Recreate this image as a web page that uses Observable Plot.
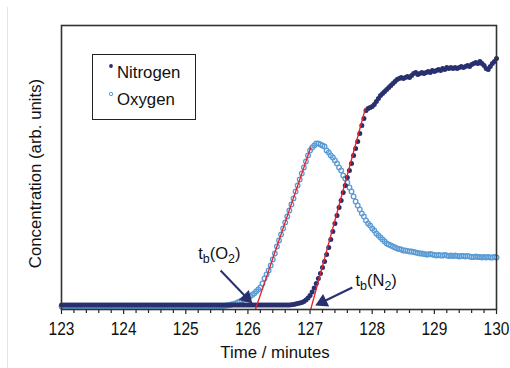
<!DOCTYPE html>
<html><head><meta charset="utf-8">
<script src="https://cdn.jsdelivr.net/npm/d3@7"></script>
<script src="https://cdn.jsdelivr.net/npm/@observablehq/plot@0.6"></script>
<style>
body{margin:0;background:#fff;}
#wrap{position:relative;width:510px;height:368px;font-family:"Liberation Sans",Arial,sans-serif;overflow:hidden;}
#edge{position:absolute;left:7px;top:7px;width:1px;height:361px;background:#e4e4e4;}
#legend{position:absolute;left:92px;top:54px;width:102px;height:64px;border:1.6px solid #222;background:#fff;}
.item{position:absolute;left:24px;font-size:16.8px;color:#111;line-height:20px;}
.mk{position:absolute;left:14px;}
</style>
</head><body>
<div id="wrap"><div id="edge"></div></div>
<script>
// sampling of the detector: one reading every 2 s, starting at 123 min
const sampleStart = 123;
const sampleStep = 1 / 30;

const nitrogen = [
4.5,4.5,4.5,4.5,4.5,4.5,4.5,4.5,4.5,4.5,
4.5,4.5,4.5,4.5,4.5,4.5,4.5,4.5,4.5,4.5,
4.5,4.5,4.5,4.5,4.5,4.5,4.5,4.5,4.5,4.5,
4.5,4.5,4.5,4.5,4.5,4.5,4.5,4.5,4.5,4.5,
4.5,4.5,4.5,4.5,4.5,4.5,4.5,4.5,4.5,4.5,
4.5,4.5,4.5,4.5,4.5,4.5,4.5,4.5,4.5,4.5,
4.5,4.5,4.5,4.5,4.5,4.5,4.5,4.5,4.5,4.5,
4.5,4.5,4.5,4.5,4.5,4.5,4.5,4.5,4.5,4.5,
4.5,4.5,4.5,4.5,4.5,4.5,4.5,4.5,4.5,4.5,
4.5,4.5,4.5,4.5,4.5,4.5,4.5,4.5,4.5,4.5,
4.5,4.5,4.5,4.5,4.5,4.5,4.5,4.5,4.5,4.5,
4.6,4.8,5,5.5,6,6.5,7,8,9.5,11.5,
14,17.5,21.5,26,31,36,42,48,55,62,
70,78,86,94,102,109,117,124,132,139,
146,154,161,168,176,184,191,199,201,202,
203,205,208,211,214,216,218,220,222,224,
226,228,230,231,232,231,232,233,232,234,
236,237,235,236,237,236,237,238,237,239,
238,239,240,239,241,240,242,241,242,241,
242,241,242,243,242,243,244,243,245,246,
247,246,248,246,244,241,240,243,246,248,
251];

const oxygen = [
3,3,3,3,3,3,3,3,3,3,
3,3,3,3,3,3,3,3,3,3,
3,3,3,3,3,3,3,3,3,3,
3,3,3,3,3,3,3,3,3,3,
3,3,3,3,3,3,3,3,3,3,
3,3,3,3,3,3,3,3,3,3,
3,3,3,3,3,3,3,3,3,3,
3,3,3,3,3,3,3,3,3.5,3.8,
4,4.5,5,5.5,6,7,8,9,10,11,
12,13,14.5,16,18,20,22,26,31,35,
39,44,50,56,63,69,75,81,87,93,
99,105,111,118,124,130,136,142,148,154,
159,162,164,166,166,165,164,163,159,157,
154,152,149,146,142,139,134,131,127,122,
118,113,108,104,100,96,93,89,86,84,
81,79,76,74,72,70,68,66,65,64,
63,62,61,60.5,60,59,59,58.5,58,58,
57.5,57,56.5,56,56,55.5,55,55,55.5,55,
54.5,54,54.5,54,54,54.5,54,53.5,54,53.5,
54,53.5,53,53.5,53.5,53,53.5,53,52.5,52.5,
53,52.5,52.5,52,52.5,52,52.5,52,52,52.5,
52];

const xTicks = [123, 124, 125, 126, 127, 128, 129, 130];
const minorTicks = [123.2,123.4,123.6,123.8,124.2,124.4,124.6,124.8,125.2,125.4,125.6,125.8,
  126.2,126.4,126.6,126.8,127.2,127.4,127.6,127.8,128.2,128.4,128.6,128.8,129.2,129.4,129.6,129.8];

// linear fits (red) used to read the breakthrough times
const fitO2 = [{t: 126.12, v: 0}, {t: 127.01, v: 162}];
const fitN2 = [{t: 127.01, v: 0}, {t: 127.89, v: 201}];

// annotations
const annoLabels = [
  {t: 125.20, v: 56, key: "O"},
  {t: 127.73, v: 29, key: "N"}
];
const annoArrows = [
  {t1: 125.56, v1: 39, t2: 125.98, v2: 11.7, rot: 135},
  {t1: 127.68, v1: 22, t2: 127.20, v2: 7.5, rot: 244}
];

const navy = "#28306f";
const light = "#5b9bd3";
const toRows = arr => arr.map((v, i) => ({t: sampleStart + i * sampleStep, v}));

const plot = Plot.plot({
  width: 510, height: 368,
  marginLeft: 61, marginRight: 14, marginTop: 25, marginBottom: 59,
  style: {fontFamily: '"Liberation Sans", Arial, sans-serif', fontSize: "15.5px", color: "#111", background: "transparent", overflow: "visible"},
  x: {domain: [123, 130]},
  y: {domain: [0, 284], axis: null},
  marks: [
    Plot.axisX(minorTicks, {tickSize: 4, text: null, label: null, stroke: "#222", strokeWidth: 1.2}),
    Plot.axisX(xTicks, {tickSize: 5, tickPadding: 9, label: null, fontSize: 15.5, tickFormat: d => String(d), stroke: "#222", strokeWidth: 1.2}),
    Plot.dot(toRows(oxygen), {x: "t", y: "v", r: 2.3, stroke: light, strokeWidth: 1.3, fill: "none"}),
    Plot.dot(toRows(nitrogen), {x: "t", y: "v", r: 2.5, fill: navy}),
    Plot.line(fitO2, {x: "t", y: "v", stroke: "#e8202a", strokeWidth: 1.3}),
    Plot.line(fitN2, {x: "t", y: "v", stroke: "#e8202a", strokeWidth: 1.3}),
    Plot.link(annoArrows, {x1: "t1", y1: "v1", x2: "t2", y2: "v2", stroke: navy, strokeWidth: 2}),
    Plot.dot(annoArrows, {x: "t2", y: "v2", symbol: "triangle", r: 5.2, fill: navy, rotate: "rot"}),
    Plot.text(annoLabels, {x: "t", y: "v", text: d => "ANNO-" + d.key, textAnchor: "start", fontSize: 16.5, fill: "#111"}),
    Plot.text(["Time / minutes"], {frameAnchor: "bottom", dy: 48, dx: -4, fontSize: 16.8, fill: "#111"}),
    Plot.text(["Concentration (arb. units)"], {frameAnchor: "left", textAnchor: "middle", dx: -26, dy: 6, rotate: -90, fontSize: 16.8, fill: "#111"}),
    Plot.frame({stroke: "#333", strokeWidth: 1.6})
  ]
});

// subscripted annotation text
const NS = "http://www.w3.org/2000/svg";
d3.select(plot).selectAll("text").each(function() {
  const s = this.textContent;
  if (!s.startsWith("ANNO-")) return;
  const el = this.querySelector("tspan") || this;
  const gas = s.slice(5);
  el.textContent = "";
  const parts = [["t", false], ["b", true], ["(" + gas, false], ["2", true], [")", false]];
  for (const [txt, sub] of parts) {
    const ts = document.createElementNS(NS, "tspan");
    ts.textContent = txt;
    if (sub) { ts.setAttribute("dy", "4"); ts.setAttribute("font-size", "12.5px"); }
    else if (txt !== "t") { ts.setAttribute("dy", "-4"); }
    el.appendChild(ts);
  }
});

// the tick labels in the reference are slightly taller than wide: stretch them vertically
d3.select(plot).selectAll('g[aria-label="x-axis tick label"]').each(function() {
  const cy = 330;
  const prev = this.getAttribute("transform") || "";
  this.setAttribute("transform", `translate(0,${cy}) scale(1,1.18) translate(0,${-cy}) ${prev}`);
});

const wrap = document.getElementById("wrap");
wrap.appendChild(plot);

const legend = document.createElement("div");
legend.id = "legend";
legend.innerHTML =
  '<svg class="mk" style="top:7px" width="8" height="8"><circle cx="4" cy="4" r="1.9" fill="' + navy + '"/></svg>' +
  '<div class="item" style="top:8px">Nitrogen</div>' +
  '<svg class="mk" style="top:35px" width="8" height="8"><circle cx="4" cy="4" r="1.7" fill="none" stroke="' + light + '" stroke-width="1"/></svg>' +
  '<div class="item" style="top:35px">Oxygen</div>';
wrap.appendChild(legend);
</script>
</body></html>
